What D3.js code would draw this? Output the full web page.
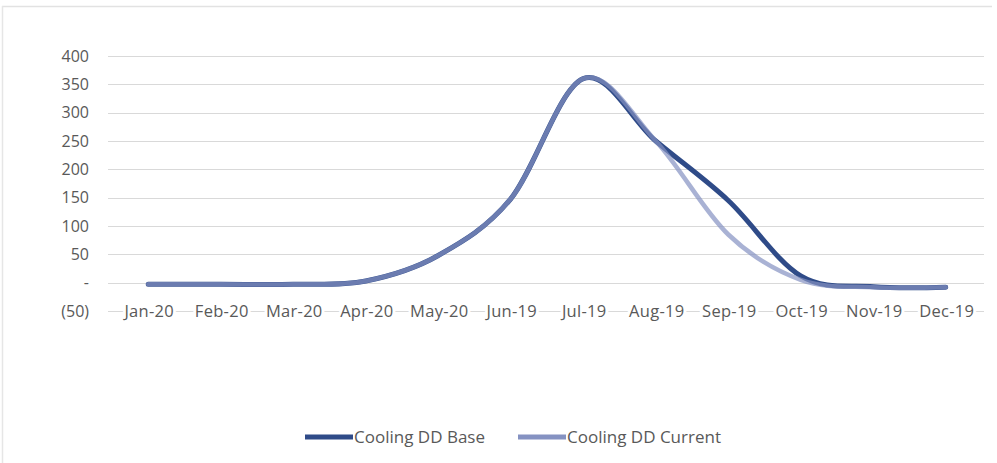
<!DOCTYPE html>
<html>
<head>
<meta charset="utf-8">
<script src="https://cdn.jsdelivr.net/npm/d3@7"></script>
<style>
  html, body { margin: 0; padding: 0; background: #fff; }
  svg { display: block; }
  text { font-family: "Open Sans", "Lato", sans-serif; fill: #595959; }
</style>
</head>
<body>
<svg id="chart" width="997" height="463"></svg>
<script>
const categories = ["Jan-20","Feb-20","Mar-20","Apr-20","May-20","Jun-19","Jul-19","Aug-19","Sep-19","Oct-19","Nov-19","Dec-19"];
const baseValues    = [-3, -3, -3, 3, 48, 148, 360, 250, 145, 12, -7, -8];
const currentValues = [-3, -3, -3, 3, 48, 148, 360, 250, 85, 5, -8, -8];
const yTicks = [-50, 0, 50, 100, 150, 200, 250, 300, 350, 400];
const seriesNames = ["Cooling DD Base", "Cooling DD Current"];
const seriesColors = ["#2f4b88", "#8592c2"];

const svg = d3.select("#chart");

// faint outer border
svg.append("line").attr("x1", 2).attr("x2", 992).attr("y1", 6.5).attr("y2", 6.5)
  .attr("stroke", "#e2e2e2").attr("stroke-width", 1.5);
svg.append("line").attr("x1", 2.5).attr("x2", 2.5).attr("y1", 6).attr("y2", 463)
  .attr("stroke", "#e6e6e6").attr("stroke-width", 1.5);

const x = d3.scaleBand().domain(categories).range([112, 982]);
const y = d3.scaleLinear().domain([-50, 400]).range([311, 56]);

// gridlines
svg.append("g").selectAll("line").data(yTicks).join("line")
  .attr("x1", 108).attr("x2", 984)
  .attr("y1", d => Math.round(y(d)) + 0.5).attr("y2", d => Math.round(y(d)) + 0.5)
  .attr("stroke", "#d9d9d9").attr("stroke-width", 1);

// y axis labels
const fmt = d => d === 0 ? "-" : (d < 0 ? "(" + Math.abs(d) + ")" : String(d));
svg.append("g").selectAll("text").data(yTicks).join("text")
  .attr("x", 89).attr("y", d => y(d))
  .attr("dy", "0.36em")
  .attr("text-anchor", "end")
  .style("font-size", "16px")
  .text(fmt);

// x axis labels over the bottom gridline
svg.append("g").selectAll("text").data(categories).join("text")
  .attr("x", d => x(d) + x.bandwidth() / 2 + 1)
  .attr("y", y(-50))
  .attr("dy", "0.36em")
  .attr("text-anchor", "middle")
  .style("font-size", "16.5px")
  .style("letter-spacing", "0.3px")
  .style("paint-order", "stroke")
  .style("stroke", "#fff")
  .style("stroke-width", "6px")
  .text(d => d);

// lines
const line = d3.line()
  .x((d, i) => x(categories[i]) + x.bandwidth() / 2)
  .y(d => y(d))
  .curve(d3.curveCardinal.tension(0));

svg.append("path").datum(baseValues)
  .attr("d", line).attr("fill", "none")
  .attr("stroke", seriesColors[0]).attr("stroke-width", 5)
  .attr("stroke-linecap", "round").attr("stroke-linejoin", "round");
svg.append("path").datum(currentValues)
  .attr("d", line).attr("fill", "none")
  .attr("stroke", seriesColors[1]).attr("stroke-width", 4.5)
  .attr("stroke-opacity", 0.7)
  .attr("stroke-linecap", "round").attr("stroke-linejoin", "round");

// legend
const legendItems = [
  { name: seriesNames[0], color: seriesColors[0], x: 305 },
  { name: seriesNames[1], color: seriesColors[1], x: 518 }
];
const lg = svg.append("g").selectAll("g").data(legendItems).join("g")
  .attr("transform", d => `translate(${d.x},437)`);
lg.append("line").attr("x1", 0).attr("x2", 48).attr("y1", 0).attr("y2", 0)
  .attr("stroke", d => d.color).attr("stroke-width", 5);
lg.append("text").attr("x", 49).attr("y", 0).attr("dy", "0.36em")
  .style("font-size", "17px")
  .text(d => d.name);
</script>
</body>
</html>
